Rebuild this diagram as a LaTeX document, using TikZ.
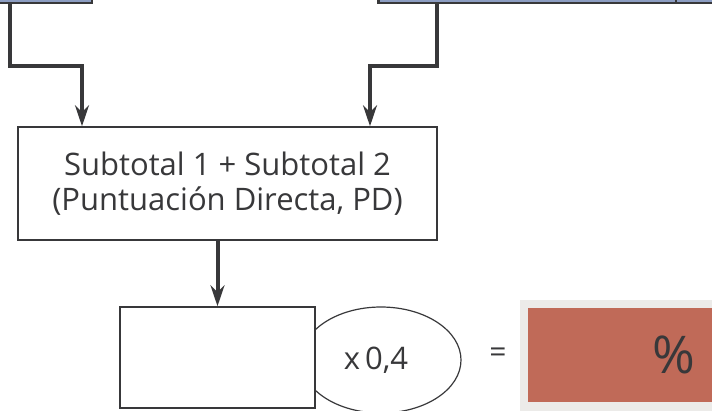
\documentclass[tikz,border=0pt]{standalone}
\usepackage{fontspec}
\setmainfont{Open Sans}
\usetikzlibrary{arrows.meta,shapes.geometric}
\definecolor{linea}{HTML}{38383A}
\definecolor{azulgris}{HTML}{8C9DC2}
\definecolor{teja}{HTML}{C06A58}
\definecolor{gris}{HTML}{ECEBE9}
\tikzset{every node/.append style={text=linea}}
\tikzset{flecha/.style={draw=linea, line width=4pt, -{Stealth[length=21pt,width=14pt,inset=7pt]}}}
\tikzset{caja/.style={draw=linea, line width=1.5pt, fill=white, inner sep=0pt}}
\tikzset{cajasup/.style={draw=linea, line width=2.5pt, fill=azulgris, inner sep=0pt}}

\begin{document}
\begin{tikzpicture}[x=1pt,y=-1pt]
  \useasboundingbox (0,0) rectangle (712,410);
% cajas de arriba
  \node[cajasup, minimum width=110, minimum height=30, anchor=south east] (sub1) at (93,4) {};
  \node[cajasup, minimum width=350, minimum height=30, anchor=south west] (sub2) at (377,4) {};
  \draw[linea, line width=1.5pt] (676,-20) -- (sub2.south -| 676,0);
% suma
  \node[caja, minimum width=419, minimum height=113, align=center, font=\fontsize{31}{35}\selectfont]
    (suma) at (227.5,183.5) {Subtotal 1 + Subtotal 2\\(Puntuación Directa, PD)};
  \draw[flecha] (sub1.south -| 10,0) |- (82,66) -- (suma.north -| 82,0);
  \draw[flecha] (sub2.south -| 437,0) |- (370,66) -- (suma.north -| 370,0);
% resultado
  \node[ellipse, draw=linea, line width=1.2pt, minimum width=160, minimum height=106,
    font=\fontsize{31}{34}\selectfont] (factor) at (381,360) {\hspace*{-10pt}x\,0,4};
  \node[caja, minimum width=195, minimum height=101] (pd) at (217.5,357.5) {};
  \draw[flecha] (suma.south -| pd.north) -- (pd.north);
  \node[font=\fontsize{30}{34}\selectfont] (igual) at (498,355) {=};
  \fill[gris] (520,300) rectangle (720,420);
  \node[fill=teja, minimum width=200, minimum height=94, anchor=north west] (pct) at (528,308) {};
  \node[font=\fontsize{52}{58}\selectfont] (signo) at (674,355) {\%};
\end{tikzpicture}
\end{document}
